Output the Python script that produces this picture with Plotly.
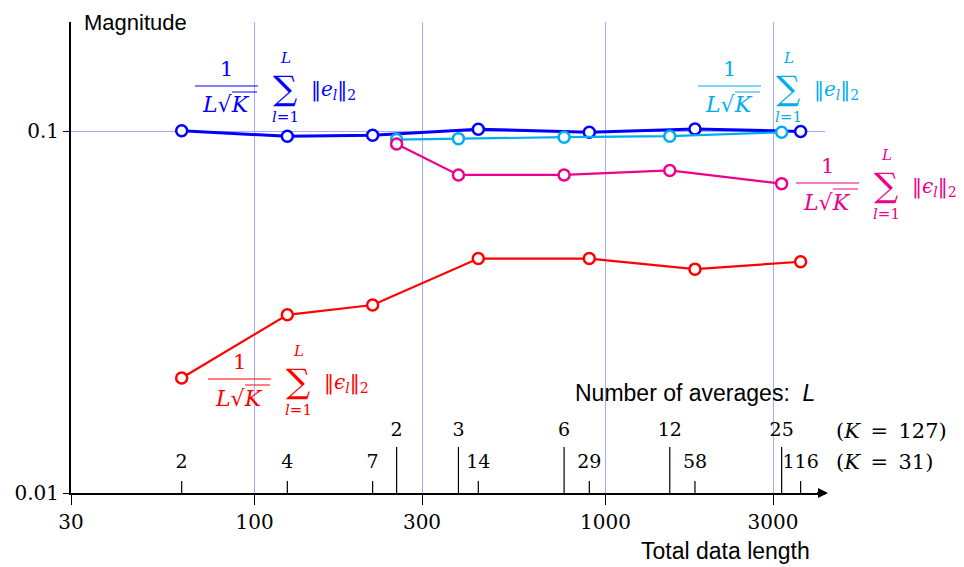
import plotly.graph_objects as go

# ---------------- data ----------------
K_small = 31
K_large = 127
L_small = [2, 4, 7, 14, 29, 58, 116]
L_large = [2, 3, 6, 12, 25]
e_small = [0.1004, 0.0969, 0.0976, 0.1014, 0.0994, 0.1016, 0.1000]
eps_small = [0.0208, 0.0311, 0.0331, 0.0445, 0.0445, 0.0416, 0.0436]
e_large = [0.0949, 0.0955, 0.0964, 0.0970, 0.0994]
eps_large = [0.0923, 0.0758, 0.0758, 0.0780, 0.0717]
x_ticks = [30, 100, 300, 1000, 3000]
x_ticklabels = ["30", "100", "300", "1000", "3000"]
y_ticks = [0.01, 0.1]
y_ticklabels = ["0.01", "0.1"]

x_small = [L * K_small for L in L_small]
x_large = [L * K_large for L in L_large]

BLUE = "#0000ff"
CYAN = "#00aeef"
MAGENTA = "#ec008c"
RED = "#ff0000"
GRID = "#a8a8ff"
SERIF = "DejaVu Serif"
SANS = "Liberation Sans"

W, H = 964, 567
L0, R0, T0, B0 = 71, 825, 22, 493  # plot area in page pixels
PW, PH = R0 - L0, B0 - T0


def px(x):
    return (x - L0) / PW


def py(y):
    return (B0 - y) / PH


fig = go.Figure()


def series(x, y, color, width, name):
    fig.add_trace(go.Scatter(
        x=x, y=y, mode="lines+markers", name=name,
        line=dict(color=color, width=width),
        marker=dict(symbol="circle", size=11, color="white",
                    line=dict(color=color, width=2.5)),
        showlegend=False, cliponaxis=False))


series(x_small, eps_small, RED, 2.2, "eps K=31")
series(x_small, e_small, BLUE, 3.0, "e K=31")
series(x_large, e_large, CYAN, 2.2, "e K=127")
series(x_large, eps_large, MAGENTA, 2.2, "eps K=127")


# secondary "number of averages" ticks (y2 is a pixel-height axis above the x axis)
def sec_ticks(xs, length):
    tx, ty = [], []
    for v in xs:
        tx += [v, v, None]
        ty += [0, length, None]
    return tx, ty


tx, ty = sec_ticks(x_small, 12)
fig.add_trace(go.Scatter(x=tx, y=ty, yaxis="y2", mode="lines",
                         line=dict(color="black", width=1.2), showlegend=False))
tx, ty = sec_ticks(x_large, 46)
fig.add_trace(go.Scatter(x=tx, y=ty, yaxis="y2", mode="lines",
                         line=dict(color="black", width=1.2), showlegend=False))
fig.add_trace(go.Scatter(x=x_small, y=[30] * len(x_small), yaxis="y2", mode="text",
                         text=[str(v) for v in L_small],
                         textfont=dict(family=SERIF, size=19, color="black"),
                         showlegend=False, cliponaxis=False))
fig.add_trace(go.Scatter(x=x_large, y=[62] * len(x_large), yaxis="y2", mode="text",
                         text=[str(v) for v in L_large],
                         textfont=dict(family=SERIF, size=19, color="black"),
                         showlegend=False, cliponaxis=False))

annotations = []
shapes = []


def text(x, y, s, size, color="black", family=SERIF, xanchor="center"):
    annotations.append(dict(x=px(x), y=py(y), xref="paper", yref="paper", text=s,
                            showarrow=False, xanchor=xanchor, yanchor="middle",
                            font=dict(family=family, size=size, color=color)))


def hline(x0, x1, y, color, width=1.2):
    shapes.append(dict(type="line", xref="paper", yref="paper", x0=px(x0), x1=px(x1),
                       y0=py(y), y1=py(y), line=dict(color=color, width=width)))


def formula(bx, by, color, sym):
    text(bx + 31, by - 17, "1", 21, color)
    hline(bx, bx + 63, by, color)
    text(bx + 31, by + 19, "<i>L</i>√<i>K</i>", 22, color)
    hline(bx + 37, bx + 62, by + 6, color, 1.0)
    text(bx + 90, by + 2, "∑", 34, color)
    text(bx + 90, by - 28, "<i>L</i>", 15, color)
    text(bx + 90, by + 31, "<i>l</i>=1", 15, color)
    text(bx + 114, by + 4, "‖<i>" + sym + "<sub>l</sub></i>‖<sub>2</sub>", 20, color,
         xanchor="left")


formula(195, 86, BLUE, "e")
formula(698, 86, CYAN, "e")
formula(796, 183, MAGENTA, "ϵ")
formula(208, 379, RED, "ϵ")

text(82, 22, "Magnitude", 22, family=SANS, xanchor="left")
text(812, 551, "Total data length", 23, family=SANS, xanchor="right")
annotations.append(dict(x=px(573), y=py(393), xref="paper", yref="paper",
                        text="Number of averages:  <i>L</i>", showarrow=False,
                        xanchor="left", yanchor="middle",
                        font=dict(family=SANS, size=23, color="black")))
text(834, 431, "(<i>K</i>\u2002=\u2002127)", 21, xanchor="left")
text(834, 462, "(<i>K</i>\u2002=\u200231)", 21, xanchor="left")

# arrow head on x axis
annotations.append(dict(x=px(828), y=0, xref="paper", yref="paper", ax=-14, ay=0,
                        axref="pixel", ayref="pixel", text=" ", showarrow=True,
                        arrowhead=2, arrowsize=1, arrowwidth=2, arrowcolor="black"))

fig.update_layout(
    template="none",
    width=W, height=H,
    margin=dict(l=L0, r=W - R0, t=T0, b=H - B0, pad=0, autoexpand=False),
    paper_bgcolor="white", plot_bgcolor="white",
    annotations=annotations, shapes=shapes,
    xaxis=dict(type="log", range=[1.4771, 1.4771 + PW / 351.0],
               tickvals=x_ticks, ticktext=x_ticklabels, automargin=False,
               showgrid=True, gridcolor=GRID, gridwidth=1,
               showline=True, linecolor="black", linewidth=2,
               ticks="outside", ticklen=10, tickwidth=1.2, tickcolor="black",
               tickfont=dict(family=SERIF, size=20, color="black"),
               zeroline=False),
    yaxis=dict(type="log", range=[-2, -2 + PH / 361.6],
               tickvals=y_ticks, ticktext=y_ticklabels, automargin=False,
               showgrid=True, gridcolor=GRID, gridwidth=1.2,
               showline=True, linecolor="black", linewidth=2,
               ticks="outside", ticklen=6, tickwidth=1.2, tickcolor="black",
               tickfont=dict(family=SERIF, size=20, color="black"),
               zeroline=False),
    yaxis2=dict(overlaying="y", range=[0, PH], visible=False, fixedrange=True,
                automargin=False),
)

fig.write_html("out.html", config={"displayModeBar": False},
               post_script="document.body.style.margin='0';document.body.style.overflow='hidden';")
